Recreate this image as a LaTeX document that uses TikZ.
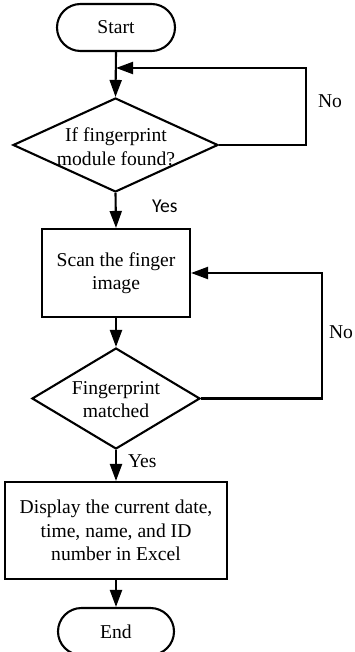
\documentclass[tikz,border=0pt]{standalone}
\usepackage{fontspec}
\setmainfont{Liberation Serif}
\newfontfamily\yesfont{Carlito}
\usetikzlibrary{arrows.meta,shapes.geometric}
\begin{document}
\begin{tikzpicture}[x=1pt,y=-1pt, line width=2.1pt,
  font=\fontsize{19.6}{23.5}\selectfont,
  term/.style={draw, rectangle, rounded corners=23.5pt, minimum width=118pt, minimum height=47pt, inner sep=0pt},
  proc/.style={draw, rectangle, inner sep=0pt, align=center},
  dec/.style={draw, diamond, inner sep=0pt},
  txt/.style={align=center, inner sep=0pt},
  lbl/.style={inner sep=0pt, anchor=base west},
  arr/.style={-{Triangle[length=17pt,width=12pt]}}]
\useasboundingbox (0,0) rectangle (354,652);
\node[term] (start) at (116,27.5) {Start};
\node[dec, minimum width=205pt, minimum height=94pt] (d1) at (115.5,145) {};
\node[txt] (d1t) at (116,146.5) {If fingerprint\\module found?};
\node[proc, minimum width=148pt, minimum height=88pt] (scan) at (116,273) {Scan the finger\\image};
\node[dec, minimum width=168pt, minimum height=101pt] (d2) at (116,398.5) {};
\node[txt] (d2t) at (116,399.5) {Fingerprint\\matched};
\node[proc, minimum width=222pt, minimum height=97pt] (disp) at (116,530.5) {Display the current date,\\time, name, and ID\\number in Excel};
\node[term, minimum width=116pt] (end) at (116,631.5) {End};
\coordinate (j1) at (116,68);
\coordinate (r1) at (306,68);
\coordinate (r2) at (322,273);
\draw[arr] (start.south) -- (d1.north);
\draw[arr] (d1.east) -| (r1) -- (j1);
\draw[arr] (d1.south) -- (scan.north);
\draw[arr] (scan.south) -- (d2.north);
\draw[arr] (d2.east) -| (r2) -- (scan.east);
\draw[arr] (d2.south) -- (disp.north);
\draw[arr] (disp.south) -- (end.north);
\node[lbl] (no1) at (317,108) {No};
\node[lbl] (no2) at (328,338) {No};
\node[lbl, font=\yesfont\fontsize{19.6}{23.5}\selectfont] (yes1) at (151,212) {Yes};
\node[lbl] (yes2) at (127,467) {Yes};
\end{tikzpicture}
\end{document}
